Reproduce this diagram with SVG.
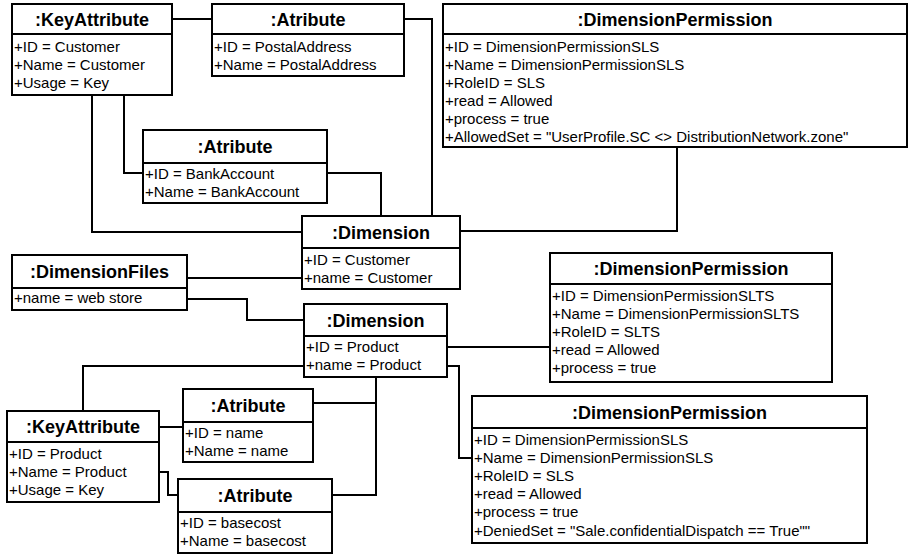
<svg xmlns="http://www.w3.org/2000/svg" width="911" height="555" viewBox="0 0 911 555">
<style>
.box{fill:#fff;stroke:#000;stroke-width:2}
.div{stroke:#000;stroke-width:2}
.t{font-family:"Liberation Sans",Arial,sans-serif;font-size:18px;font-weight:bold;text-anchor:middle;fill:#000}
.a{font-family:"Liberation Sans",Arial,sans-serif;font-size:15px;fill:#000}
.c{fill:none;stroke:#000;stroke-width:2}
</style>
<rect width="911" height="555" fill="#fff"/>
<g id="connectors">
<path class="c" d="M172,19 H212"/>
<path class="c" d="M404,19 H432 V216"/>
<path class="c" d="M92,95 V232 H302"/>
<path class="c" d="M124,95 V173 H143"/>
<path class="c" d="M327,173 H381 V216"/>
<path class="c" d="M460,231 H677 V147"/>
<path class="c" d="M187,278 H302"/>
<path class="c" d="M187,299 H247 V320 H304"/>
<path class="c" d="M304,366 H83 V411"/>
<path class="c" d="M447,347 H550"/>
<path class="c" d="M447,366 H459 V458 H472"/>
<path class="c" d="M376,377 V495 H332"/>
<path class="c" d="M313,403 H376"/>
<path class="c" d="M159,427 H183"/>
<path class="c" d="M159,472 H168 V495 H178"/>
</g>
<g id="keyattr1">
<rect class="box" x="12" y="4" width="160" height="91"/>
<line class="div" x1="12" y1="34" x2="172" y2="34"/>
<text class="t" x="92" y="25.5">:KeyAttribute</text>
<text class="a" x="14" y="51.5">+ID = Customer</text>
<text class="a" x="14" y="69.5">+Name = Customer</text>
<text class="a" x="14" y="87.5">+Usage = Key</text>
</g>
<g id="atr_postal">
<rect class="box" x="212" y="4" width="192" height="72"/>
<line class="div" x1="212" y1="34" x2="404" y2="34"/>
<text class="t" x="308" y="25.5">:Atribute</text>
<text class="a" x="214" y="51.5">+ID = PostalAddress</text>
<text class="a" x="214" y="69.5">+Name = PostalAddress</text>
</g>
<g id="dimperm1">
<rect class="box" x="443" y="4" width="464" height="143"/>
<line class="div" x1="443" y1="34" x2="907" y2="34"/>
<text class="t" x="675" y="25.5">:DimensionPermission</text>
<text class="a" x="445" y="51.5">+ID = DimensionPermissionSLS</text>
<text class="a" x="445" y="69.5">+Name = DimensionPermissionSLS</text>
<text class="a" x="445" y="87.5">+RoleID = SLS</text>
<text class="a" x="445" y="105.5">+read = Allowed</text>
<text class="a" x="445" y="123.5">+process = true</text>
<text class="a" x="445" y="141.5">+AllowedSet = "UserProfile.SC &lt;&gt; DistributionNetwork.zone"</text>
</g>
<g id="atr_bank">
<rect class="box" x="143" y="130" width="184" height="73"/>
<line class="div" x1="143" y1="163" x2="327" y2="163"/>
<text class="t" x="235" y="153">:Atribute</text>
<text class="a" x="145" y="179">+ID = BankAccount</text>
<text class="a" x="145" y="197">+Name = BankAccount</text>
</g>
<g id="dim_customer">
<rect class="box" x="302" y="216" width="158" height="73"/>
<line class="div" x1="302" y1="248" x2="460" y2="248"/>
<text class="t" x="381" y="238.5">:Dimension</text>
<text class="a" x="304" y="264.5">+ID = Customer</text>
<text class="a" x="304" y="283">+name = Customer</text>
</g>
<g id="dimfiles">
<rect class="box" x="12" y="255" width="175" height="55"/>
<line class="div" x1="12" y1="288" x2="187" y2="288"/>
<text class="t" x="99.5" y="278">:DimensionFiles</text>
<text class="a" x="14" y="303">+name = web store</text>
</g>
<g id="dim_product">
<rect class="box" x="304" y="304" width="143" height="73"/>
<line class="div" x1="304" y1="336" x2="447" y2="336"/>
<text class="t" x="375.5" y="326.5">:Dimension</text>
<text class="a" x="306" y="352">+ID = Product</text>
<text class="a" x="306" y="370">+name = Product</text>
</g>
<g id="dimperm2">
<rect class="box" x="550" y="253" width="282" height="129"/>
<line class="div" x1="550" y1="284" x2="832" y2="284"/>
<text class="t" x="691" y="275">:DimensionPermission</text>
<text class="a" x="552" y="301">+ID = DimensionPermissionSLTS</text>
<text class="a" x="552" y="319">+Name = DimensionPermissionSLTS</text>
<text class="a" x="552" y="337">+RoleID = SLTS</text>
<text class="a" x="552" y="355">+read = Allowed</text>
<text class="a" x="552" y="373">+process = true</text>
</g>
<g id="atr_name">
<rect class="box" x="183" y="389" width="130" height="73"/>
<line class="div" x1="183" y1="422" x2="313" y2="422"/>
<text class="t" x="248" y="412">:Atribute</text>
<text class="a" x="185" y="437.5">+ID = name</text>
<text class="a" x="185" y="456">+Name = name</text>
</g>
<g id="keyattr2">
<rect class="box" x="7" y="411" width="152" height="91"/>
<line class="div" x1="7" y1="442" x2="159" y2="442"/>
<text class="t" x="83" y="433">:KeyAttribute</text>
<text class="a" x="9" y="458.5">+ID = Product</text>
<text class="a" x="9" y="476.5">+Name = Product</text>
<text class="a" x="9" y="494.5">+Usage = Key</text>
</g>
<g id="atr_basecost">
<rect class="box" x="178" y="479" width="154" height="74"/>
<line class="div" x1="178" y1="512" x2="332" y2="512"/>
<text class="t" x="255" y="502">:Atribute</text>
<text class="a" x="180" y="527.5">+ID = basecost</text>
<text class="a" x="180" y="546">+Name = basecost</text>
</g>
<g id="dimperm3">
<rect class="box" x="472" y="396" width="395" height="147"/>
<line class="div" x1="472" y1="428" x2="867" y2="428"/>
<text class="t" x="669.5" y="418.5">:DimensionPermission</text>
<text class="a" x="474" y="445">+ID = DimensionPermissionSLS</text>
<text class="a" x="474" y="463">+Name = DimensionPermissionSLS</text>
<text class="a" x="474" y="481">+RoleID = SLS</text>
<text class="a" x="474" y="499">+read = Allowed</text>
<text class="a" x="474" y="517">+process = true</text>
<text class="a" x="474" y="535.5">+DeniedSet = "Sale.confidentialDispatch == True""</text>
</g>
</svg>
